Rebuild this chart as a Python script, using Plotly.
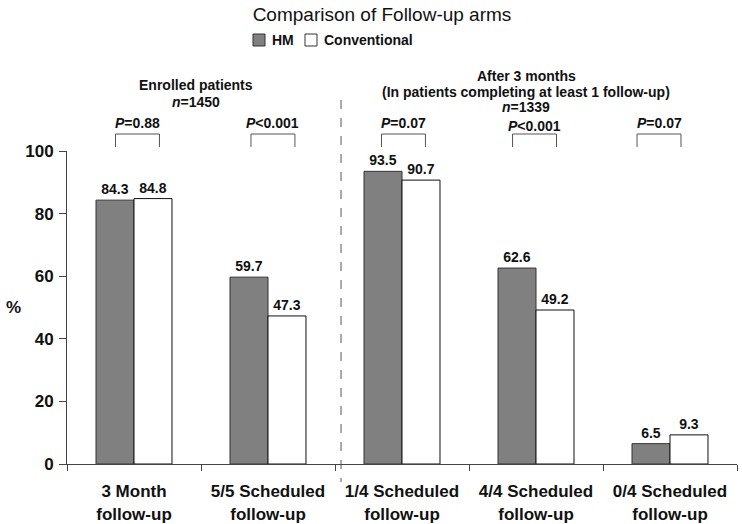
import plotly.graph_objects as go

categories = ["3 Month<br>follow-up", "5/5 Scheduled<br>follow-up", "1/4 Scheduled<br>follow-up",
              "4/4 Scheduled<br>follow-up", "0/4 Scheduled<br>follow-up"]
hm_values = [84.3, 59.7, 93.5, 62.6, 6.5]
conv_values = [84.8, 47.3, 90.7, 49.2, 9.3]
p_labels = ["<i>P</i>=0.88", "<i>P</i><0.001", "<i>P</i>=0.07", "<i>P</i><0.001", "<i>P</i>=0.07"]
bracket_offsets = [0.026, 0.037, 0.011, -0.011, -0.082]

FONT = "Liberation Sans, Arial, sans-serif"
W, H = 742, 524
# plot area in page pixel coordinates
PL, PR, PT, PB = 67, 737, 151, 464
ML, MR, MT, MB = PL, W - PR, PT, H - PB
PH = PB - PT
PW = PR - PL


def py(p):
    return (PB - p) / PH


def px(p):
    return (p - PL) / PW


fig = go.Figure()
fig.add_trace(go.Bar(
    name="HM", x=categories, y=hm_values,
    marker=dict(color="#808080", line=dict(color="#333333", width=1)),
    texttemplate="<b>%{y:.1f}</b>", textposition="outside",
    textfont=dict(family=FONT, size=14, color="#111111"), cliponaxis=False,
    showlegend=False,
))
fig.add_trace(go.Bar(
    name="Conventional", x=categories, y=conv_values,
    marker=dict(color="#ffffff", line=dict(color="#111111", width=1)),
    texttemplate="<b>%{y:.1f}</b>", textposition="outside",
    textfont=dict(family=FONT, size=14, color="#111111"), cliponaxis=False,
    showlegend=False,
))

shapes = []
annotations = []

# brackets and P labels
for i, (lab, off) in enumerate(zip(p_labels, bracket_offsets)):
    c = i + off
    hw = 0.164
    top = py(134)
    bot = py(147)
    shapes.append(dict(type="path", xref="x", yref="paper",
                       path=f"M {c-hw},{bot} L {c-hw},{top} L {c+hw},{top} L {c+hw},{bot}",
                       line=dict(color="#555555", width=1)))
    ly = 126 if i == 3 else 123
    annotations.append(dict(x=c, y=py(ly), xref="x", yref="paper", text=f"<b>{lab}</b>",
                            showarrow=False, font=dict(family=FONT, size=14, color="#111111"),
                            xanchor="center", yanchor="middle"))

# dashed separator
shapes.append(dict(type="line", xref="x", yref="paper", x0=1.545, x1=1.545,
                   y0=py(100), y1=py(482), line=dict(color="#555555", width=1, dash="dash")))

# group headers
for txt, x, y in [("<b>Enrolled patients</b>", 196, 85), ("<b><i>n</i>=1450</b>", 196, 102),
                  ("<b>After 3 months</b>", 526, 76),
                  ("<b>(In patients completing at least 1 follow-up)</b>", 526, 92),
                  ("<b><i>n</i>=1339</b>", 526, 107)]:
    annotations.append(dict(x=px(x), y=py(y), xref="paper", yref="paper", text=txt,
                            showarrow=False, font=dict(family=FONT, size=14, color="#111111"),
                            xanchor="center", yanchor="middle"))

# y axis title
annotations.append(dict(x=px(13), y=py(307), xref="paper", yref="paper", text="<b>%</b>",
                        showarrow=False, font=dict(family=FONT, size=17, color="#111111"),
                        xanchor="center", yanchor="middle"))

# manual legend
for name, color, sx, tx in [("HM", "#808080", 253, 270), ("Conventional", "#ffffff", 305, 322)]:
    shapes.append(dict(type="rect", xref="paper", yref="paper",
                       x0=px(sx), x1=px(sx + 12), y0=py(46), y1=py(34),
                       fillcolor=color, line=dict(color="#333333", width=1)))
    annotations.append(dict(x=px(tx), y=py(40), xref="paper", yref="paper", text=f"<b>{name}</b>",
                            showarrow=False, font=dict(family=FONT, size=14, color="#111111"),
                            xanchor="left", yanchor="middle"))

fig.update_layout(
    width=W, height=H,
    margin=dict(l=ML, r=MR, t=MT, b=MB),
    paper_bgcolor="white", plot_bgcolor="white",
    barmode="group", bargap=0.433, bargroupgap=0,
    title=dict(text="Comparison of Follow-up arms", x=382 / W, xref="container",
               xanchor="center", y=1 - 14 / H, yref="container", yanchor="middle",
               font=dict(family=FONT, size=19, color="#111111")),
    shapes=shapes, annotations=annotations,
    xaxis=dict(showline=True, linecolor="#444444", linewidth=1, ticks="outside", ticklen=6,
               tickcolor="#444444", tickson="boundaries", showgrid=False, automargin=False,
               ticklabelstandoff=12,
               tickfont=dict(family=FONT, size=17, color="#111111", weight="bold"),
               range=[-0.5, 4.5]),
    yaxis=dict(range=[0, 100], showline=True, linecolor="#444444", linewidth=1, ticks="outside",
               ticklen=7, tickcolor="#444444", showgrid=False, zeroline=False, automargin=False,
               ticklabelstandoff=2, tickvals=[0, 20, 40, 60, 80, 100],
               tickfont=dict(family=FONT, size=17, color="#111111", weight="bold")),
)

# remove the browser's default 8px body margin so the figure fills the window exactly
fig.write_html("out.html", config={"displayModeBar": False},
               post_script="document.body.style.margin='0';")
